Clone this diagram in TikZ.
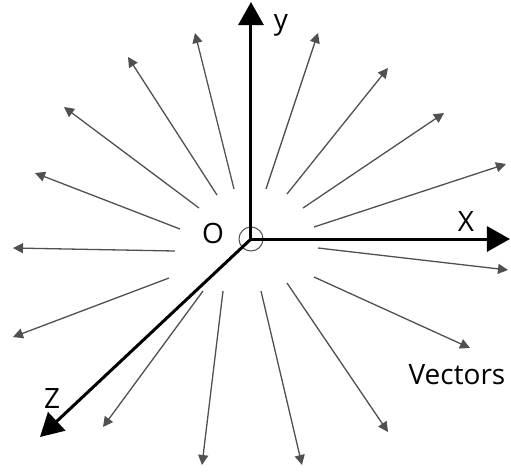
\documentclass[tikz,border=0pt]{standalone}
\usepackage{fontspec}
\setmainfont{Open Sans}
\usetikzlibrary{arrows.meta}
\definecolor{VecGray}{RGB}{80,80,80}

\begin{document}
\begin{tikzpicture}[x=0.5pt, y=-0.5pt,
    vec/.style={draw=VecGray, line width=0.65pt, -{Triangle[length=5pt, width=5pt]}},
    axis/.style={draw=black, line width=1.5pt, -{Triangle[length=11.5pt, width=12.5pt]}},
    lbl/.style={font=\fontsize{14}{16}\selectfont, inner sep=0pt}
  ]
  \useasboundingbox (0,0) rectangle (511,473);
  % origin and axis ends
  \coordinate (O) at (251,239);
  \coordinate (ytip) at (251,2);
  \coordinate (xtip) at (510,239);
  \coordinate (ztip) at (40,437);
  \node[circle, draw=VecGray, line width=0.5pt, minimum size=12pt, inner sep=0pt] (orig) at (O) {};
  % radiating vectors
  \foreach \sx/\sy/\tx/\ty [count=\i] in {
      180/229/35/173, 199/208/64/107, 217/195/128/57, 234/189/195/33,
      266/189/318/33, 287/194/388/68, 303/208/444/113, 314/227/506/164,
      175/251/13/248, 169/278/13/337, 203/291/103/427, 223/291/202/465,
      261/291/302/465, 287/283/388/432, 314/277/470/348, 318/248/508/270} {
    \coordinate (s\i) at (\sx,\sy);
    \coordinate (t\i) at (\tx,\ty);
    \draw[vec] (s\i) -- (t\i);
  }
  % axes
  \draw[axis] (O) -- (ytip);
  \draw[axis] (O) -- (xtip);
  \draw[axis] (O) -- (ztip);
  % labels
  \node[lbl] (ylbl) at (281,25) {y};
  \node[lbl] (xlbl) at (466,221) {X};
  \node[lbl] (zlbl) at (52,398) {Z};
  \node[lbl] (olbl) at (213,233) {O};
  \node[lbl] (vlbl) at (457,375) {Vectors};
\end{tikzpicture}
\end{document}
